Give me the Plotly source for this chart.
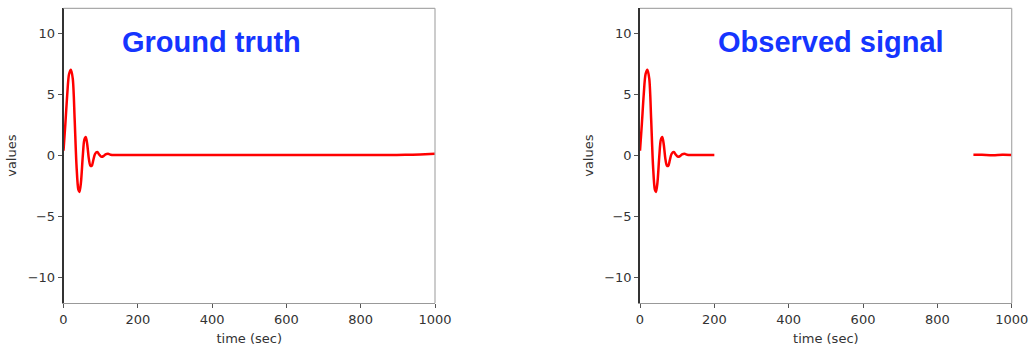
import plotly.graph_objects as go

# Ground truth signal
t_truth = [0, 5, 10, 15, 20, 25, 30, 35, 40, 43, 47, 52, 56, 60, 64, 68, 72, 76, 80, 85, 91, 96, 101, 107, 113, 120, 127, 135, 150, 175, 200,
           300, 400, 500, 600, 700, 800, 880, 920, 960, 1000]
v_truth = [0.4, 2.6, 5.0, 6.7, 7.05, 6.3, 3.0, -0.8, -2.8, -2.98, -2.2, 0.0, 1.3, 1.53, 0.9, -0.2, -0.8, -0.85, -0.4, 0.15, 0.3, 0.1, -0.08, -0.05, 0.1, 0.15, 0.08, 0.05, 0.05, 0.06, 0.05,
           0.05, 0.05, 0.05, 0.05, 0.05, 0.05, 0.05, 0.07, 0.1, 0.15]

# Observed signal: two segments with a gap
t_obs_a = [0, 5, 10, 15, 20, 25, 30, 35, 40, 43, 47, 52, 56, 60, 64, 68, 72, 76, 80, 85, 91, 96, 101, 107, 113, 120, 127, 135, 150, 175, 200]
v_obs_a = [0.4, 2.6, 5.0, 6.7, 7.05, 6.3, 3.0, -0.8, -2.8, -2.98, -2.2, 0.0, 1.3, 1.53, 0.9, -0.2, -0.8, -0.85, -0.4, 0.15, 0.3, 0.1, -0.08, -0.05, 0.1, 0.15, 0.08, 0.05, 0.05, 0.05, 0.05]
t_obs_b = [897, 920, 950, 975, 1000]
v_obs_b = [0.08, 0.07, 0.04, 0.08, 0.06]

x_ticks = [0, 200, 400, 600, 800, 1000]
y_ticks = [-10, -5, 0, 5, 10]
titles = ["Ground truth", "Observed signal"]

RED = "#ff0000"
BLUE = "#1535ff"

fig = go.Figure()
fig.add_trace(go.Scatter(x=t_truth, y=v_truth, mode="lines", line=dict(color=RED, width=2.5, shape="spline", smoothing=0.8),
                         xaxis="x", yaxis="y", showlegend=False))
fig.add_trace(go.Scatter(x=t_obs_a, y=v_obs_a, mode="lines", line=dict(color=RED, width=2.5, shape="spline", smoothing=0.8),
                         xaxis="x2", yaxis="y2", showlegend=False))
fig.add_trace(go.Scatter(x=t_obs_b, y=v_obs_b, mode="lines", line=dict(color=RED, width=2.5, shape="spline", smoothing=0.8),
                         xaxis="x2", yaxis="y2", showlegend=False))

tickfont = dict(family="DejaVu Sans", size=13, color="#333")
ydom = [1 - 303 / 350, 1 - 8.3 / 350]
xdoms = [[63.5 / 1032, 435 / 1032], [640 / 1032, 1011.7 / 1032]]

common_x = dict(range=[0, 1000], tickvals=x_ticks, ticks="outside", ticklen=4, tickcolor="#555",
                showline=True, linecolor="#999", linewidth=1.2, showgrid=False, zeroline=False, automargin=False,
                tickfont=tickfont, title=dict(text="time (sec)", font=tickfont, standoff=8))
common_y = dict(range=[-12.1, 12.1], tickvals=y_ticks, ticks="outside", ticklen=4, tickcolor="#555",
                showline=True, linecolor="#333", linewidth=1.5, showgrid=False, zeroline=False, automargin=False,
                tickfont=tickfont, title=dict(text="values", font=tickfont, standoff=8))

fig.update_layout(
    width=1032, height=350,
    margin=dict(l=0, r=0, t=0, b=0),
    paper_bgcolor="white", plot_bgcolor="white",
    xaxis=dict(domain=xdoms[0], anchor="y", **common_x),
    yaxis=dict(domain=ydom, anchor="x", **common_y),
    xaxis2=dict(domain=xdoms[1], anchor="y2", **common_x),
    yaxis2=dict(domain=ydom, anchor="x2", **common_y),
)

# top/right frame lines
for xd in xdoms:
    fig.add_shape(type="line", xref="paper", yref="paper", x0=xd[0], x1=xd[1], y0=ydom[1], y1=ydom[1],
                  line=dict(color="#aaa", width=1.2))
    fig.add_shape(type="line", xref="paper", yref="paper", x0=xd[1], x1=xd[1], y0=ydom[0], y1=ydom[1],
                  line=dict(color="#aaa", width=1.2))

title_x = [211 / 1032, 831 / 1032]
for tx, txt in zip(title_x, titles):
    fig.add_annotation(text=f"<b>{txt}</b>", x=tx, y=1 - 42 / 350, xref="paper", yref="paper",
                       showarrow=False, xanchor="center", yanchor="middle",
                       font=dict(family="Liberation Sans", size=29, color=BLUE))

fig.write_html("out.html", config={"displayModeBar": False},
               post_script="document.body.style.margin='0';document.body.style.overflow='hidden';")
